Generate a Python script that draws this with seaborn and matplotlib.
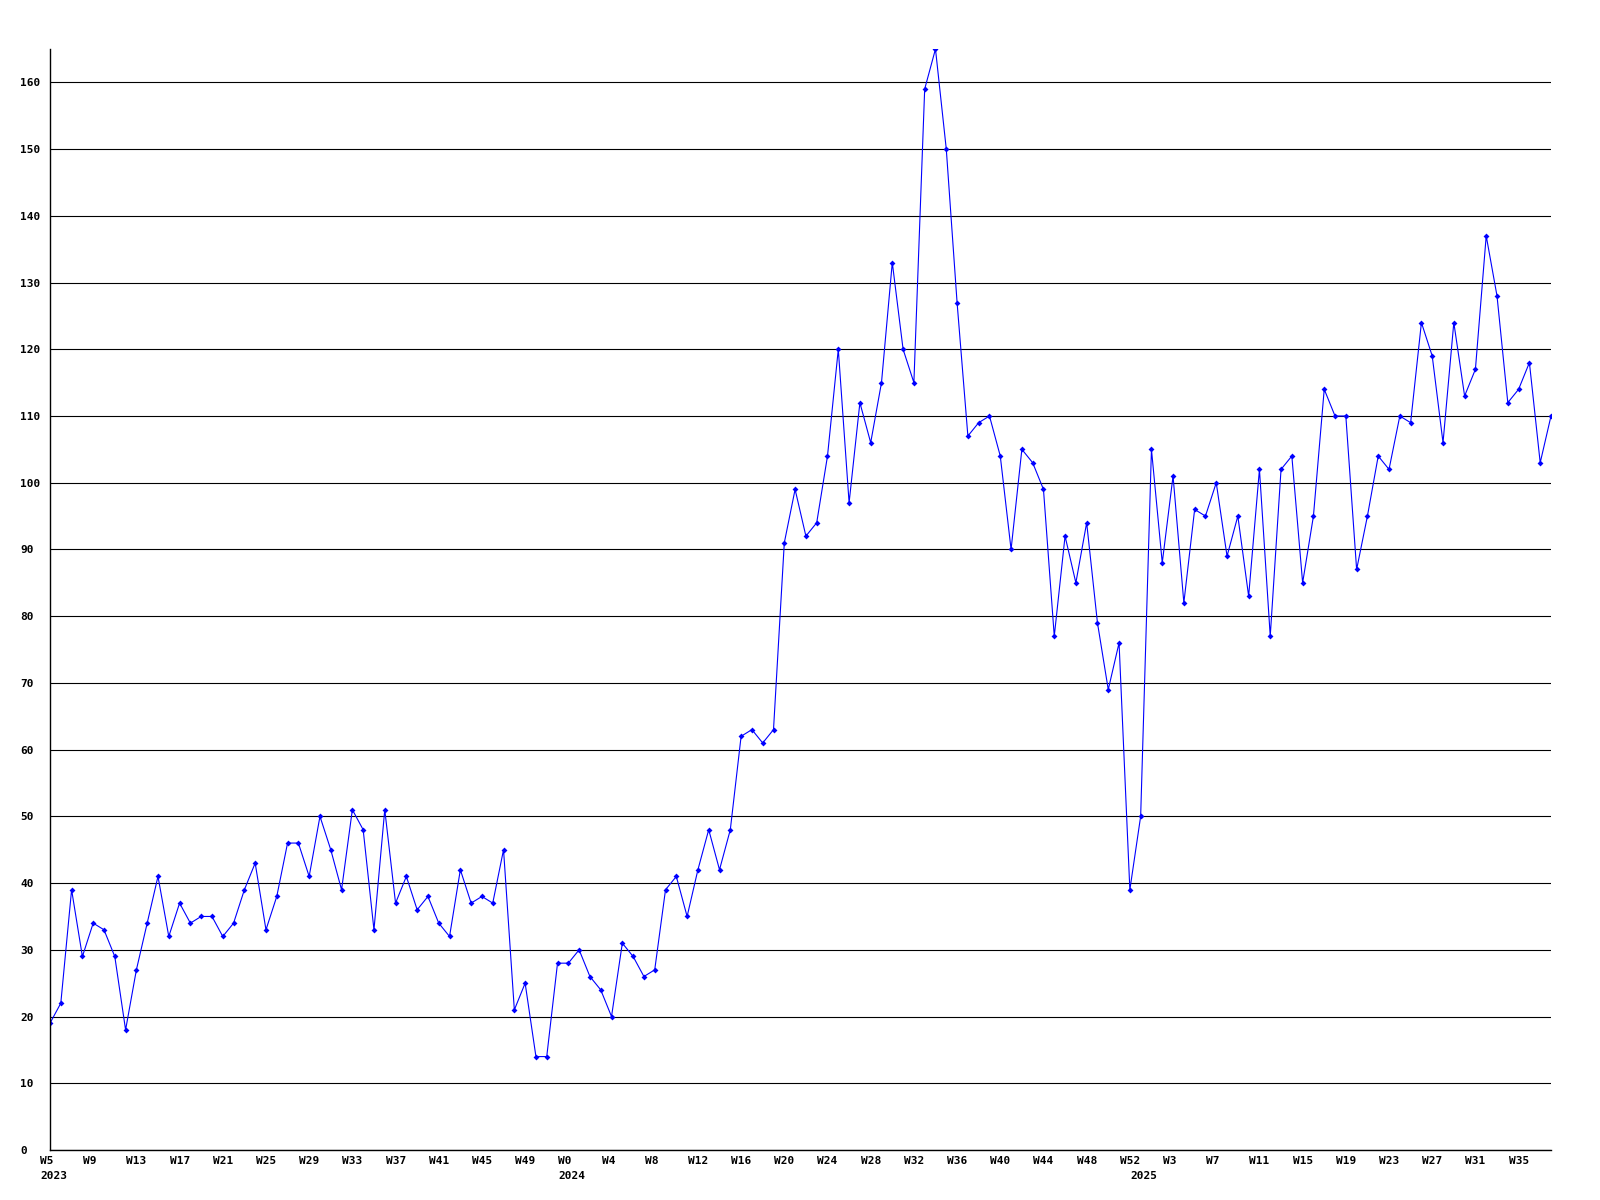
import numpy as np
import pandas as pd
import matplotlib
matplotlib.use("Agg")
import matplotlib.pyplot as plt
import seaborn as sns
from matplotlib.transforms import ScaledTranslation

# Weekly values (2023 W5..W52, 2024 W0..W52, 2025 W0..W38)
vals_2023 = [19, 22, 39, 29, 34, 33, 29, 18, 27, 34, 41, 32, 37, 34, 35, 35,
             32, 34, 39, 43, 33, 38, 46, 46, 41, 50, 45, 39, 51, 48, 33, 51,
             37, 41, 36, 38, 34, 32, 42, 37, 38, 37, 45, 21, 25, 14, 14, 28]
vals_2024 = [28, 30, 26, 24, 20, 31, 29, 26, 27, 39, 41, 35, 42, 48, 42, 48,
             62, 63, 61, 63, 91, 99, 92, 94, 104, 120, 97, 112, 106, 115, 133,
             120, 115, 159, 165, 150, 127, 107, 109, 110, 104, 90, 105, 103,
             99, 77, 92, 85, 94, 79, 69, 76, 39]
vals_2025 = [50, 105, 88, 101, 82, 96, 95, 100, 89, 95, 83, 102, 77, 102, 104,
             85, 95, 114, 110, 110, 87, 95, 104, 102, 110, 109, 124, 119, 106,
             124, 113, 117, 137, 128, 112, 114, 118, 103, 110]

tick_labels = ["W5", "W9", "W13", "W17", "W21", "W25", "W29", "W33", "W37",
               "W41", "W45", "W49",
               "W0", "W4", "W8", "W12", "W16", "W20", "W24", "W28", "W32",
               "W36", "W40", "W44", "W48", "W52",
               "W3", "W7", "W11", "W15", "W19", "W23", "W27", "W31", "W35"]
year_labels = ["2023", "2024", "2025"]
y_ticks = [0, 10, 20, 30, 40, 50, 60, 70, 80, 90, 100, 110, 120, 130, 140, 150, 160]

values = vals_2023 + vals_2024 + vals_2025
df = pd.DataFrame({"idx": np.arange(len(values)), "count": values})
year_starts = [0, len(vals_2023), len(vals_2023) + len(vals_2024)]

sns.set_style("white")
plt.rcParams["font.family"] = ["DejaVu Sans Mono"]

fig = plt.figure(figsize=(16, 12), dpi=100)
ax = fig.add_axes([50 / 1600, 1 - 1150 / 1200, 1501 / 1600, 1101 / 1200])

ax.grid(axis="y", color="black", linewidth=0.8)
ax.grid(axis="x", visible=False)
ax.set_axisbelow(True)

sns.lineplot(data=df, x="idx", y="count", ax=ax, color="#0000ff",
             linewidth=0.8, marker="D", markersize=3.0,
             markeredgewidth=0, markerfacecolor="#0000ff")

ax.set_xlim(0, len(values) - 1)
ax.set_ylim(0, 165)
ax.set_xlabel("")
ax.set_ylabel("")

for s in ["top", "right"]:
    ax.spines[s].set_visible(False)
for s in ["left", "bottom"]:
    ax.spines[s].set_color("black")
    ax.spines[s].set_linewidth(1.0)

ax.set_yticks(y_ticks)
ax.set_yticklabels([str(v) for v in y_ticks])
ax.set_xticks(np.arange(0, len(tick_labels) * 4, 4))
ax.set_xticklabels(tick_labels)

ax.tick_params(axis="both", length=0, labelsize=8, labelcolor="black")
ax.tick_params(axis="y", pad=30 * 72 / 100)
ax.tick_params(axis="x", pad=6 * 72 / 100)

for lab in ax.get_yticklabels():
    lab.set_horizontalalignment("left")
    lab.set_fontweight("bold")
offset = ScaledTranslation(-10 / 100, 0, fig.dpi_scale_trans)
for lab in ax.get_xticklabels():
    lab.set_horizontalalignment("left")
    lab.set_fontweight("bold")
    lab.set_transform(lab.get_transform() + offset)

for yl, xs in zip(year_labels, year_starts):
    ax.annotate(yl, xy=(xs, 0), xycoords=("data", "axes fraction"),
                xytext=(-10, -21), textcoords="offset pixels",
                ha="left", va="top", fontsize=8, fontweight="bold",
                color="black", annotation_clip=False)

fig.savefig("out.png", dpi=100, facecolor="white")
